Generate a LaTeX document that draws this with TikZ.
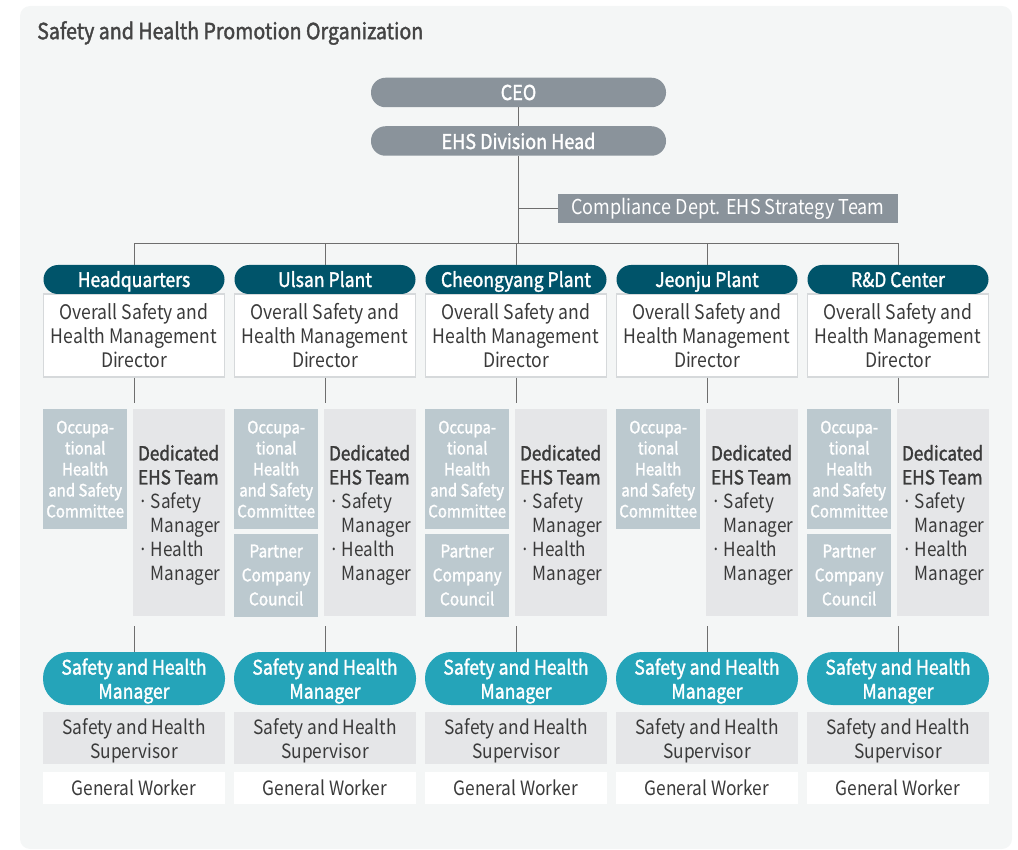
\documentclass[tikz,border=0pt]{standalone}
\usepackage{fontspec}
\setmainfont{Noto Sans CJK KR}[FakeStretch=0.88,BoldFont=*,BoldFeatures={FakeBold=1.6}]
\usetikzlibrary{positioning}
\definecolor{panelbg}{HTML}{F4F6F6}
\definecolor{topgray}{HTML}{8A939B}
\definecolor{deepteal}{HTML}{00546A}
\definecolor{brightteal}{HTML}{25A4B9}
\definecolor{bluegray}{HTML}{BCC9CF}
\definecolor{lightgray}{HTML}{E5E6E8}
\definecolor{edgegray}{HTML}{D6D9DB}
\definecolor{linegray}{HTML}{6E6E6E}
\definecolor{inkgray}{HTML}{3A3A3A}

\begin{document}
\begin{tikzpicture}[x=1pt,y=-1pt,node distance=7pt]
\tikzstyle{conn}=[draw=linegray,line width=0.8pt]
\tikzstyle{toppill}=[fill=topgray,text=white,rounded corners=14.5pt,minimum width=295pt,minimum height=29.5pt,inner sep=0pt,font=\fontsize{20.5}{22}\selectfont\bfseries]
\tikzstyle{hdpill}=[fill=deepteal,text=white,rounded corners=14.5pt,minimum width=181pt,minimum height=29pt,inner sep=0pt,text height=15pt,text depth=0pt,font=\fontsize{20}{22}\selectfont\bfseries]
\tikzstyle{dirbox}=[fill=white,draw=edgegray,line width=1.2pt,minimum width=181pt,minimum height=83pt,inner sep=0pt,align=center,text=inkgray,font=\fontsize{20}{24}\selectfont]
\tikzstyle{combox}=[fill=bluegray,text=white,minimum width=84pt,inner sep=0pt,align=center,font=\fontsize{17}{21}\selectfont\bfseries]
\tikzstyle{dedbox}=[fill=lightgray,text=inkgray,minimum width=92pt,minimum height=207pt,inner sep=0pt,align=left,text depth=0pt,font=\fontsize{19.5}{24}\selectfont]
\tikzstyle{mgrpill}=[fill=brightteal,text=white,rounded corners=26pt,minimum width=182pt,minimum height=53pt,inner sep=0pt,align=center,text depth=0pt,font=\fontsize{20}{24}\selectfont\bfseries]
\tikzstyle{supbox}=[fill=lightgray,text=inkgray,minimum width=182pt,minimum height=52pt,inner sep=0pt,align=center,text depth=0pt,font=\fontsize{19.7}{24}\selectfont]
\tikzstyle{workbox}=[fill=white,text=inkgray,minimum width=182pt,minimum height=32pt,inner sep=0pt,font=\fontsize{19.7}{22}\selectfont]

\useasboundingbox (0,0) rectangle (1018,850);
\fill[panelbg,rounded corners=10pt] (20,6) rectangle (1012,849);

\node[anchor=west,inner sep=0pt,text=inkgray!95,font=\fontsize{22.3}{24}\selectfont\bfseries] (title) at (37,33) {Safety and Health Promotion Organization};

% top of the chart
\node[toppill] (ceo) at (518.5,92.5) {CEO};
\node[toppill] (ehs) at (518.5,141) {EHS Division Head};
\node[fill=topgray,text=white,minimum width=340pt,minimum height=29pt,inner sep=0pt,font=\fontsize{20.5}{22}\selectfont] (comp) at (728,208.5) {Compliance Dept. EHS Strategy Team};

% one column per site
\foreach \i/\site in {1/Headquarters,2/Ulsan Plant,3/Cheongyang Plant,4/Jeonju Plant,5/R\&D Center}{
  \pgfmathsetmacro{\lx}{43+(\i-1)*191}
  \node[dirbox] (dir\i) at (\lx+91,335.5) {Overall Safety and\\Health Management\\Director};
  \node[hdpill] (hd\i) at (\lx+91,279.5) {\site};
  \node[combox,minimum height=120pt,anchor=north west] (com\i) at (\lx,409) {Occupa-\\tional\\Health\\and Safety\\Committee};
  \node[dedbox,anchor=north west] (ded\i) at (\lx+90,409) {\textbf{Dedicated}\\\textbf{EHS Team}\\·\,Safety\\\phantom{·\,}Manager\\·\,Health\\\phantom{·\,}Manager};
  \node[mgrpill] (shm\i) at (\lx+91,678.5) {Safety and Health\\Manager};
  \node[supbox,below=of shm\i] (sup\i) {Safety and Health\\Supervisor};
  \node[workbox,below=of sup\i] (gw\i) {General Worker};
  \draw[conn] (dir\i.south) -- ++(0,25);
  \draw[conn] (shm\i.north) -- ++(0,-26);
}
\foreach \i in {2,3,5}{
  \node[combox,minimum height=83pt,font=\fontsize{17.5}{24}\selectfont\bfseries,below=4pt of com\i] (par\i) {Partner\\Company\\Council};
}

% connectors
\coordinate (bus) at (0,243);
\draw[conn] (ceo) -- (ehs);
\draw[conn] (ehs.south) -- (ehs.south |- bus);
\draw[conn] (comp.west) -- (comp.west -| ehs.south);
\draw[conn] (hd1.north) -- (hd1.north |- bus) -- (hd5.north |- bus) -- (hd5.north);
\foreach \i in {2,3,4}
  \draw[conn] (hd\i.north) -- (hd\i.north |- bus);
\end{tikzpicture}
\end{document}
